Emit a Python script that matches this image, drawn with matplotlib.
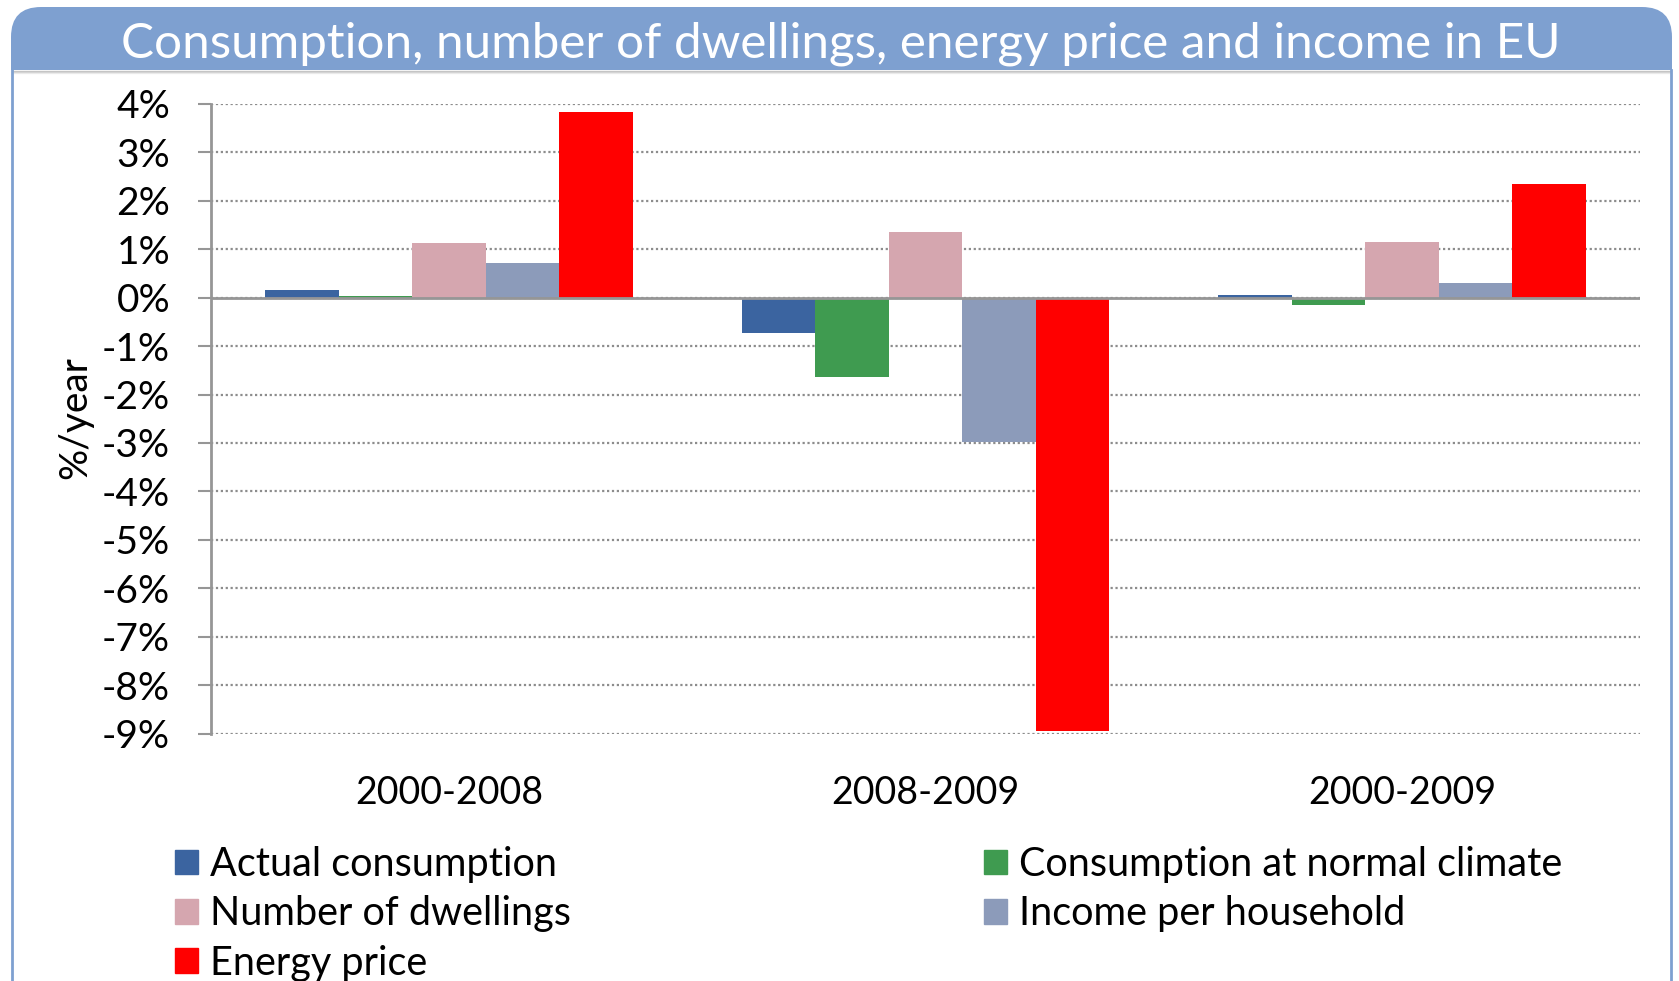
import matplotlib
matplotlib.use('Agg')
import matplotlib.pyplot as plt
import numpy as np
from matplotlib.patches import FancyBboxPatch, Rectangle, Patch

plt.rcParams['font.family'] = ['Lato', 'DejaVu Sans']

# data (% per year)
periods = ['2000-2008', '2008-2009', '2000-2009']
series = ['Actual consumption', 'Consumption at normal climate',
          'Number of dwellings', 'Income per household', 'Energy price']
actual = [0.15, -0.72, 0.05]
normal_climate = [0.04, -1.64, -0.15]
dwellings = [1.12, 1.35, 1.14]
income = [0.72, -2.99, 0.30]
energy_price = [3.84, -8.95, 2.34]
colors = ['#3B64A0', '#3F9B50', '#D5A6AF', '#8C9BBA', '#FF0000']
yticks = np.arange(-9, 5)

W, H = 1679, 981
fig = plt.figure(figsize=(W / 100, H / 100), dpi=100)

# background layer in pixel coords for the title bar and frame
bg = fig.add_axes([0, 0, 1, 1])
bg.set_xlim(0, W)
bg.set_ylim(H, 0)
bg.axis('off')
frame_col = '#7EA0D0'
bg.add_patch(FancyBboxPatch((11, 7), 1661, 62, boxstyle='round,pad=0,rounding_size=30',
                            fc=frame_col, ec='none'))
bg.add_patch(Rectangle((11, 40), 1661, 30, fc=frame_col, ec='none'))
for i, a in enumerate([0.35, 0.2, 0.1]):
    bg.plot([13, 1670], [71 + i, 71 + i], color='#666666', alpha=a, lw=1)
bg.plot([12, 12], [70, H], color=frame_col, lw=2)
bg.plot([1671, 1671], [70, H], color=frame_col, lw=2)
bg.text(841, 44, 'Consumption, number of dwellings, energy price and income in EU',
        color='white', fontsize=35.6, ha='center', va='center')

# main chart
ax = fig.add_axes([211 / W, 1 - 733.5 / H, (1640 - 211) / W, (733.5 - 104) / H])
ax.set_facecolor('none')
x = np.arange(len(periods))
w = 0.1543
values = [actual, normal_climate, dwellings, income, energy_price]
for i, (vals, c) in enumerate(zip(values, colors)):
    ax.bar(x + (i - 2) * w, vals, width=w, color=c, zorder=2, label=series[i])

ax.axhline(0, color='#969696', lw=2, zorder=3)
ax.set_xlim(-0.5, 2.5)
ax.set_ylim(-9, 4)
ax.set_yticks(yticks)
ax.set_yticklabels(['%d%%' % v for v in yticks], fontsize=28)
ax.set_xticks(x)
ax.set_xticklabels(periods, fontsize=27)
ax.tick_params(axis='y', length=9.4, width=1.5, color='#969696', pad=20)
ax.tick_params(axis='x', length=0, pad=30)
ax.yaxis.grid(True, linestyle=(0, (1, 1.2)), color='#8C8C8C', lw=1.6, zorder=0)
for s in ['top', 'right', 'bottom']:
    ax.spines[s].set_visible(False)
ax.spines['left'].set_color('#969696')
ax.spines['left'].set_linewidth(2)

fig.text(75 / W, 1 - 418 / H, '%/year', rotation=90, fontsize=28,
         ha='center', va='center')

# legend in two separate blocks
leg_kw = dict(frameon=False, fontsize=28.5, handlelength=0.58, handleheight=0.58,
              handletextpad=0.3, labelspacing=0.31, borderaxespad=0, borderpad=0)
h1 = [Patch(color=colors[i]) for i in (0, 2, 4)]
l1 = [series[i] for i in (0, 2, 4)]
h2 = [Patch(color=colors[i]) for i in (1, 3)]
l2 = [series[i] for i in (1, 3)]
fig.legend(h1, l1, loc='upper left', bbox_to_anchor=(175 / W, 1 - 846 / H), **leg_kw)
fig.legend(h2, l2, loc='upper left', bbox_to_anchor=(984 / W, 1 - 846 / H), **leg_kw)

fig.savefig('out.png', dpi=100, facecolor='white')
